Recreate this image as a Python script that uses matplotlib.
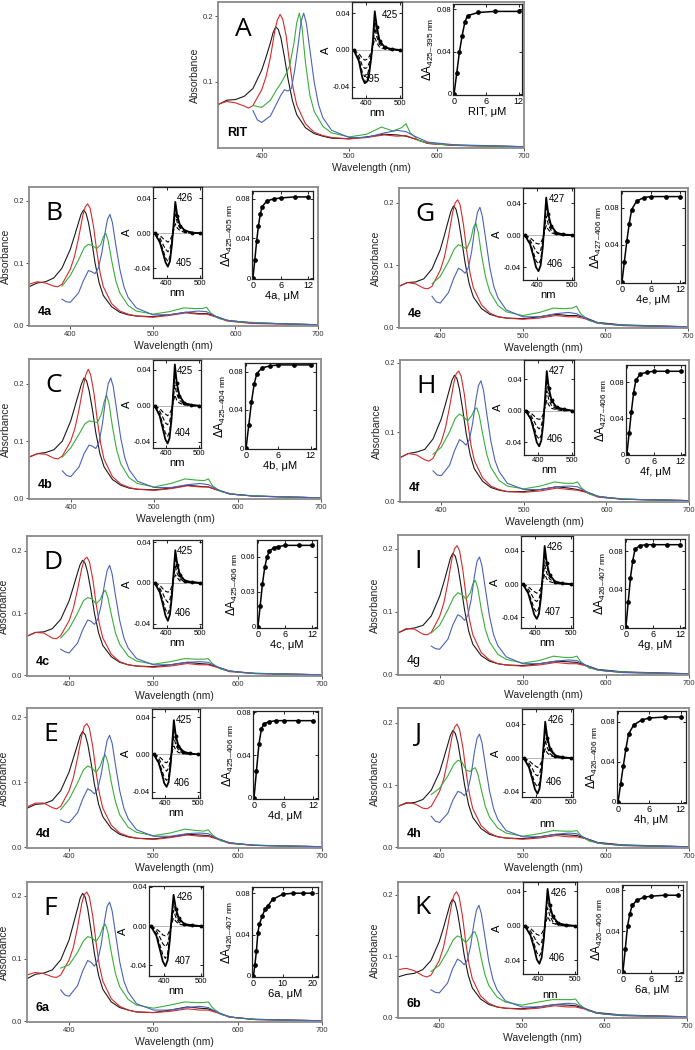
import numpy as np
import matplotlib
matplotlib.use("Agg")
import matplotlib.pyplot as plt

plt.rcParams['font.family'] = ['Liberation Sans', 'DejaVu Sans']
plt.rcParams['mathtext.fontset'] = 'custom'
plt.rcParams['mathtext.rm'] = 'Liberation Sans'
plt.rcParams['mathtext.it'] = 'Liberation Sans:italic'

# ---------------- wavelength grids (nm) ----------------
W_BLACK = [350, 360, 370, 380, 390, 400, 405, 410, 413, 416, 419, 422, 426, 430, 435, 440, 450, 460, 470, 480, 500, 520, 540, 555, 565, 575, 590, 620, 700]
W_RED = [350, 360, 370, 380, 385, 390, 400, 405, 410, 415, 418, 421, 424, 428, 432, 436, 440, 450, 460, 470, 480, 500, 520, 540, 555, 565, 575, 590, 620, 700]
W_GREEN = [390, 400, 410, 417, 422, 427, 432, 437, 440, 443, 446, 450, 455, 460, 470, 480, 500, 520, 537, 550, 560, 565, 570, 580, 600, 650, 700]
W_BLUE = [390, 395, 400, 410, 416, 422, 426, 430, 434, 438, 442, 445, 448, 451, 455, 460, 465, 470, 480, 500, 520, 540, 555, 565, 575, 590, 620, 700]
W_DIFF = [365, 380, 390, 397, 404, 410, 416, 421, 426, 432, 440, 455, 475, 500]

# ---------------- Panel A (RIT) ----------------
A_black = [.065, .072, .073, .078, .090, .118, .138, .160, .175, .184, .180, .167, .138, .105, .072, .050, .030, .021, .017, .014, .013, .016, .020, .019, .017, .013, .006, .003, .001]
A_red = [.066, .070, .068, .063, .060, .064, .088, .108, .138, .178, .195, .203, .196, .170, .128, .090, .065, .036, .023, .018, .015, .013, .015, .019, .017, .018, .013, .006, .003, .001]
A_green = [.064, .061, .072, .088, .098, .110, .125, .160, .190, .205, .185, .130, .080, .055, .032, .022, .016, .020, .031, .025, .030, .036, .022, .010, .005, .002, .001]
A_blue = [.056, .042, .038, .048, .064, .080, .088, .086, .090, .120, .160, .192, .205, .190, .150, .100, .065, .045, .026, .015, .015, .022, .026, .024, .017, .008, .004, .001]
A_diff = [[0, -.004, -.009, -.011, -.010, -.007, -.002, .004, .013, .008, .003, .001, 0, 0],
          [0, -.007, -.017, -.020, -.019, -.014, -.004, .007, .024, .014, .006, .002, 0, 0],
          [0, -.010, -.024, -.029, -.027, -.020, -.006, .010, .034, .020, .008, .002, .001, 0],
          [0, -.012, -.030, -.036, -.034, -.025, -.008, .012, .042, .025, .010, .003, .001, 0]]
A_tx = [0, 0.5, 1, 1.5, 2, 2.5, 4.5, 7.5, 12]
A_ty = [0, .020, .040, .055, .068, .074, .077, .078, .078]

# ---------------- Panel B (4a) ----------------
B_black = [.062, .068, .070, .076, .092, .122, .143, .165, .178, .185, .180, .165, .135, .100, .068, .048, .030, .021, .017, .015, .014, .017, .021, .019, .019, .015, .008, .004, .001]
B_red = [.066, .070, .068, .063, .062, .066, .090, .110, .140, .175, .190, .195, .188, .160, .120, .085, .062, .035, .023, .018, .015, .013, .016, .020, .018, .018, .014, .007, .003, .001]
B_green = [.063, .080, .105, .125, .130, .128, .123, .130, .142, .148, .135, .105, .072, .052, .032, .023, .018, .022, .028, .027, .027, .029, .020, .011, .006, .003, .001]
B_blue = [.042, .038, .037, .052, .072, .088, .086, .083, .092, .115, .148, .170, .178, .165, .130, .090, .062, .045, .028, .017, .017, .021, .023, .022, .015, .008, .004, .001]
B_diff = [[0, -.002, -.006, -.008, -.010, -.008, -.003, .003, .011, .006, .003, .001, 0, 0],
          [0, -.005, -.013, -.018, -.021, -.018, -.008, .006, .022, .012, .006, .002, .001, 0],
          [0, -.008, -.019, -.028, -.032, -.027, -.011, .009, .031, .017, .008, .003, .001, 0],
          [0, -.010, -.023, -.033, -.038, -.032, -.013, .011, .036, .020, .009, .003, .001, 0]]
B_tx = [0, 0.4, 0.8, 1.2, 1.6, 2, 3, 4.5, 6, 9, 12]
B_ty = [0, .018, .037, .053, .065, .072, .078, .080, .081, .082, .082]

# ---------------- Panel C (4b) ----------------
C_black = [.072, .078, .080, .085, .100, .135, .160, .185, .200, .210, .205, .188, .155, .115, .078, .055, .033, .023, .018, .016, .015, .018, .023, .021, .020, .015, .008, .004, .001]
C_red = [.072, .078, .077, .070, .069, .074, .100, .122, .155, .195, .215, .225, .215, .182, .135, .095, .068, .038, .025, .019, .016, .014, .017, .022, .020, .020, .015, .008, .004, .001]
C_green = [.072, .088, .112, .130, .135, .134, .132, .148, .168, .180, .165, .125, .085, .060, .036, .026, .020, .026, .034, .032, .031, .034, .022, .012, .006, .003, .001]
C_blue = [.048, .040, .038, .055, .078, .093, .091, .087, .098, .130, .175, .200, .210, .195, .155, .105, .070, .050, .030, .019, .019, .024, .026, .024, .016, .008, .004, .001]
C_diff = [[0, -.003, -.007, -.009, -.011, -.009, -.004, .003, .012, .006, .003, .001, 0, 0],
          [0, -.006, -.013, -.019, -.021, -.018, -.008, .007, .023, .013, .006, .002, 0, 0],
          [0, -.009, -.021, -.030, -.034, -.029, -.012, .011, .037, .020, .009, .003, .001, 0],
          [0, -.011, -.026, -.037, -.042, -.036, -.015, .014, .046, .025, .011, .003, .001, 0]]
C_tx = [0, 0.5, 1, 1.5, 2, 3, 4.5, 6, 9, 12]
C_ty = [0, .024, .048, .067, .078, .084, .086, .087, .087, .087]

# ---------------- Panel D (4c) ----------------
D_black = [.063, .069, .070, .075, .090, .120, .142, .165, .178, .185, .180, .165, .135, .100, .068, .048, .030, .021, .017, .015, .014, .017, .021, .019, .018, .014, .007, .003, .001]
D_red = [.063, .069, .068, .060, .059, .064, .088, .108, .138, .172, .186, .190, .183, .155, .115, .082, .060, .034, .022, .017, .015, .013, .015, .019, .017, .017, .013, .006, .003, .001]
D_green = [.060, .075, .100, .120, .125, .123, .115, .122, .132, .137, .125, .098, .068, .050, .031, .023, .018, .022, .027, .026, .026, .027, .019, .010, .005, .002, .001]
D_blue = [.042, .038, .036, .052, .073, .089, .087, .082, .090, .113, .147, .168, .177, .163, .128, .088, .060, .044, .027, .017, .017, .021, .022, .021, .014, .007, .003, .001]
D_diff = [[0, -.002, -.006, -.008, -.009, -.008, -.003, .003, .008, .005, .002, .001, 0, 0],
          [0, -.005, -.011, -.016, -.019, -.016, -.007, .005, .016, .009, .004, .001, 0, 0],
          [0, -.007, -.018, -.026, -.030, -.025, -.010, .008, .026, .014, .006, .002, .001, 0],
          [0, -.009, -.022, -.032, -.037, -.031, -.013, .010, .032, .018, .008, .002, .001, 0]]
D_tx = [0, 0.5, 1, 1.5, 2, 2.5, 3.5, 4.5, 6, 9, 12]
D_ty = [0, .018, .037, .051, .060, .065, .068, .069, .070, .070, .070]

# ---------------- Panel E (4d) ----------------
E_black = [.060, .066, .067, .072, .087, .116, .137, .158, .171, .178, .173, .159, .130, .097, .066, .047, .029, .020, .016, .014, .013, .016, .020, .019, .018, .014, .007, .003, .001]
E_red = [.062, .068, .068, .061, .059, .063, .087, .107, .137, .172, .186, .190, .183, .155, .115, .082, .060, .034, .022, .017, .014, .012, .015, .019, .017, .017, .013, .006, .003, .001]
E_green = [.058, .074, .099, .119, .125, .122, .115, .125, .137, .142, .130, .100, .070, .050, .031, .023, .018, .022, .028, .026, .025, .027, .019, .010, .005, .002, .001]
E_blue = [.042, .039, .038, .053, .074, .090, .087, .082, .090, .112, .143, .164, .172, .160, .126, .087, .060, .044, .027, .017, .017, .021, .022, .021, .014, .007, .003, .001]
E_diff = [[0, -.002, -.005, -.008, -.009, -.007, -.003, .003, .009, .005, .002, .001, 0, 0],
          [0, -.004, -.011, -.015, -.018, -.015, -.006, .006, .019, .010, .005, .001, 0, 0],
          [0, -.007, -.017, -.025, -.028, -.024, -.010, .009, .030, .016, .007, .002, .001, 0],
          [0, -.009, -.021, -.031, -.035, -.030, -.012, .011, .037, .020, .009, .003, .001, 0]]
E_tx = [0, 0.5, 1, 1.5, 2, 3, 4.5, 6, 9, 12]
E_ty = [0, .025, .050, .064, .069, .071, .072, .072, .072, .072]

# ---------------- Panel F (6a) ----------------
F_black = [.068, .075, .077, .082, .098, .130, .155, .180, .196, .204, .198, .180, .145, .108, .073, .051, .031, .022, .018, .015, .014, .018, .023, .021, .020, .015, .007, .003, .001]
F_red = [.074, .078, .076, .071, .070, .074, .098, .118, .150, .188, .202, .206, .198, .168, .125, .088, .064, .036, .024, .018, .015, .014, .016, .020, .018, .018, .014, .007, .003, .001]
F_green = [.085, .090, .110, .128, .135, .133, .127, .138, .150, .155, .142, .110, .076, .055, .035, .026, .021, .026, .031, .030, .030, .031, .022, .011, .005, .002, .001]
F_blue = [.050, .042, .040, .057, .080, .097, .094, .088, .097, .122, .160, .183, .190, .176, .140, .095, .064, .047, .028, .018, .018, .022, .024, .022, .015, .007, .003, .001]
F_diff = [[0, -.003, -.006, -.009, -.010, -.009, -.004, .003, .008, .005, .002, .001, 0, 0],
          [0, -.005, -.012, -.018, -.021, -.018, -.007, .005, .016, .009, .004, .001, 0, 0],
          [0, -.008, -.020, -.029, -.033, -.028, -.011, .008, .026, .014, .006, .002, .001, 0],
          [0, -.010, -.025, -.036, -.041, -.035, -.014, .010, .032, .018, .008, .002, .001, 0]]
F_tx = [0, 0.5, 1, 1.5, 2, 3, 4, 5, 6.5, 10, 13.5, 17, 20]
F_ty = [0, .011, .024, .042, .050, .058, .065, .068, .074, .079, .080, .080, .080]

# ---------------- Panel G (4e) ----------------
G_black = [.066, .072, .073, .078, .094, .125, .148, .173, .187, .195, .190, .173, .140, .104, .070, .049, .030, .021, .017, .015, .014, .017, .021, .019, .019, .016, .008, .004, .001]
G_red = [.066, .072, .070, .063, .062, .066, .092, .113, .146, .185, .200, .205, .197, .166, .123, .087, .064, .036, .023, .017, .015, .013, .015, .019, .017, .017, .014, .007, .003, .001]
G_green = [.070, .082, .106, .126, .133, .130, .126, .142, .160, .168, .152, .116, .080, .057, .035, .025, .019, .024, .031, .030, .031, .034, .022, .011, .005, .002, .001]
G_blue = [.050, .041, .039, .056, .078, .095, .092, .087, .096, .122, .162, .185, .193, .178, .142, .096, .065, .047, .028, .017, .017, .022, .024, .022, .015, .007, .003, .001]
G_diff = [[0, -.003, -.007, -.010, -.011, -.010, -.004, .004, .012, .007, .003, .001, 0, 0],
          [0, -.006, -.014, -.020, -.023, -.019, -.008, .007, .024, .013, .006, .002, 0, 0],
          [0, -.009, -.022, -.032, -.036, -.031, -.013, .011, .038, .021, .009, .003, .001, 0],
          [0, -.011, -.027, -.040, -.045, -.038, -.016, .014, .047, .026, .012, .003, .001, 0]]
G_tx = [0, 0.5, 1, 1.5, 2, 3, 4.5, 6, 9, 12]
G_ty = [0, .022, .044, .063, .078, .087, .091, .092, .092, .092]

# ---------------- Panel H (4f) ----------------
H_black = [.063, .069, .071, .075, .090, .119, .140, .162, .175, .182, .177, .162, .132, .099, .067, .047, .029, .020, .016, .014, .014, .017, .021, .019, .017, .014, .007, .003, .001]
H_red = [.063, .069, .067, .060, .058, .062, .086, .106, .136, .170, .184, .188, .181, .154, .114, .081, .059, .034, .022, .017, .014, .013, .015, .019, .017, .016, .013, .006, .003, .001]
H_green = [.068, .078, .100, .120, .126, .122, .116, .124, .132, .135, .124, .098, .068, .049, .030, .022, .018, .022, .028, .026, .026, .028, .019, .010, .005, .002, .001]
H_blue = [.044, .038, .037, .052, .073, .089, .086, .081, .089, .113, .147, .167, .174, .161, .127, .087, .059, .043, .026, .017, .017, .021, .022, .021, .014, .007, .003, .001]
H_diff = [[0, -.003, -.007, -.010, -.011, -.010, -.004, .004, .013, .007, .003, .001, 0, 0],
          [0, -.006, -.014, -.020, -.023, -.019, -.008, .008, .025, .014, .006, .002, .001, 0],
          [0, -.009, -.022, -.032, -.036, -.031, -.013, .012, .040, .022, .010, .003, .001, 0],
          [0, -.011, -.027, -.040, -.045, -.038, -.016, .015, .050, .028, .013, .004, .002, 0]]
H_tx = [0, 0.5, 1, 1.5, 2, 3, 4.5, 6, 9, 12]
H_ty = [0, .023, .047, .068, .082, .089, .091, .092, .092, .092]

# ---------------- Panel I (4g) ----------------
I_black = [.066, .072, .074, .078, .093, .124, .146, .170, .185, .193, .188, .172, .139, .103, .069, .048, .030, .021, .017, .015, .014, .017, .021, .020, .019, .015, .008, .004, .001]
I_red = [.066, .073, .072, .064, .063, .067, .092, .113, .146, .185, .200, .205, .197, .166, .123, .087, .063, .035, .023, .017, .015, .013, .015, .019, .017, .017, .014, .007, .003, .001]
I_green = [.066, .078, .103, .123, .130, .127, .120, .130, .144, .150, .137, .105, .072, .052, .032, .024, .018, .022, .029, .027, .027, .029, .020, .010, .005, .002, .001]
I_blue = [.045, .041, .040, .056, .079, .095, .092, .086, .094, .119, .157, .180, .187, .173, .137, .093, .063, .046, .028, .017, .017, .021, .023, .022, .015, .007, .003, .001]
I_diff = [[0, -.003, -.007, -.009, -.011, -.009, -.004, .003, .012, .006, .003, .001, 0, 0],
          [0, -.006, -.013, -.019, -.021, -.018, -.008, .007, .023, .013, .006, .002, 0, 0],
          [0, -.009, -.021, -.030, -.034, -.029, -.012, .011, .037, .020, .009, .003, .001, 0],
          [0, -.011, -.026, -.037, -.042, -.036, -.015, .014, .046, .025, .011, .003, .001, 0]]
I_tx = [0, 0.5, 1, 1.5, 2, 3, 4.5, 6, 9, 12]
I_ty = [0, .026, .052, .070, .082, .086, .087, .087, .087, .087]

# ---------------- Panel J (4h) ----------------
J_black = [.066, .071, .072, .077, .092, .121, .143, .166, .180, .188, .183, .168, .136, .101, .068, .048, .030, .021, .017, .015, .014, .017, .021, .020, .019, .015, .008, .004, .001]
J_red = [.066, .072, .070, .063, .062, .066, .090, .110, .141, .178, .193, .198, .190, .161, .120, .085, .062, .035, .023, .017, .015, .013, .015, .019, .017, .017, .014, .007, .003, .001]
J_green = [.085, .095, .115, .133, .140, .137, .124, .122, .126, .128, .118, .094, .066, .049, .031, .023, .018, .022, .027, .026, .026, .027, .019, .010, .005, .002, .001]
J_blue = [.050, .042, .040, .055, .076, .090, .088, .083, .092, .117, .154, .175, .182, .168, .133, .091, .062, .045, .027, .017, .017, .021, .023, .022, .015, .007, .003, .001]
J_diff = [[0, -.003, -.007, -.009, -.011, -.009, -.004, .003, .011, .006, .003, .001, 0, 0],
          [0, -.006, -.013, -.019, -.021, -.018, -.008, .006, .021, .012, .005, .001, 0, 0],
          [0, -.009, -.021, -.030, -.034, -.029, -.012, .010, .034, .019, .009, .002, .001, 0],
          [0, -.011, -.026, -.037, -.042, -.036, -.015, .013, .043, .024, .011, .003, .001, 0]]
J_tx = [0, 0.5, 1, 1.5, 2, 3, 4.5, 6, 9, 12]
J_ty = [0, .018, .036, .053, .068, .077, .082, .084, .085, .085]

# ---------------- Panel K (6b) ----------------
K_black = [.066, .070, .072, .078, .093, .124, .146, .170, .185, .193, .188, .172, .139, .103, .069, .048, .030, .021, .017, .015, .014, .017, .021, .020, .019, .015, .008, .004, .001]
K_red = [.078, .080, .076, .068, .066, .069, .093, .114, .147, .185, .200, .205, .197, .166, .123, .087, .063, .035, .023, .017, .015, .013, .015, .019, .017, .017, .014, .007, .003, .001]
K_green = [.075, .085, .108, .127, .133, .130, .122, .130, .137, .140, .130, .102, .071, .052, .033, .025, .020, .025, .029, .029, .029, .030, .021, .011, .005, .002, .001]
K_blue = [.045, .041, .040, .056, .079, .095, .092, .086, .093, .117, .154, .175, .183, .169, .134, .091, .062, .045, .027, .017, .017, .021, .023, .022, .015, .007, .003, .001]
K_diff = [[0, -.003, -.007, -.010, -.011, -.009, -.004, .003, .011, .006, .003, .001, 0, 0],
          [0, -.006, -.013, -.019, -.022, -.019, -.008, .006, .021, .012, .005, .001, 0, 0],
          [0, -.009, -.021, -.031, -.035, -.030, -.012, .010, .034, .019, .009, .002, .001, 0],
          [0, -.011, -.026, -.039, -.044, -.037, -.015, .013, .043, .024, .011, .003, .001, 0]]
K_tx = [0, 0.5, 1, 1.5, 2, 3, 4.5, 6, 9, 12]
K_ty = [0, .022, .045, .057, .065, .070, .073, .074, .075, .075]

# ---------------- text ----------------
PANELS = ['A', 'B', 'C', 'D', 'E', 'F', 'G', 'H', 'I', 'J', 'K']
COMPOUNDS = ['RIT', '4a', '4b', '4c', '4d', '6a', '4e', '4f', '4g', '4h', '6b']
TITR_XNAMES = ['RIT', '4a', '4b', '4c', '4d', '6a', '4e', '4f', '4g', '4h', '6a']
PEAK_LABELS = ['425', '426', '425', '425', '425', '426', '427', '427', '426', '426', '426']
TROUGH_LABELS = ['395', '405', '404', '406', '406', '407', '406', '406', '407', '406', '406']
DELTA_SUB = ['425-395', '425-405', '425-404', '425-406', '425-406', '426-407',
             '427-406', '427-406', '426-407', '426-406', '426-406']

# ---------------- layout (pixel boxes: left, top, right, bottom) ----------------
FIG_W, FIG_H = 695, 1050
MAIN_BOX = {'A': (218, 2, 524, 148), 'B': (29, 187, 318, 326), 'C': (29, 359, 321, 499),
            'D': (27, 536, 322, 676), 'E': (27, 708, 322, 848), 'F': (27, 882, 322, 1022),
            'G': (399, 188, 688, 328), 'H': (400, 360, 689, 502), 'I': (398, 535, 689, 675),
            'J': (398, 708, 689, 848), 'K': (398, 882, 687, 1018)}
DIFF_BOX = {'A': (352, 2, 402, 98), 'B': (153, 187, 202, 278), 'C': (153, 360, 201, 448),
            'D': (153, 540, 202, 628), 'E': (152, 709, 200, 798), 'F': (149, 886, 203, 976),
            'G': (523, 188, 574, 280), 'H': (524, 360, 574, 455), 'I': (521, 536, 573, 628),
            'J': (522, 709, 573, 797), 'K': (523, 882, 577, 974)}
TITR_BOX = {'A': (453, 4, 522, 95), 'B': (252, 191, 313, 279), 'C': (245, 363, 316, 449),
            'D': (257, 540, 317, 628), 'E': (253, 711, 318, 799), 'F': (252, 887, 318, 977),
            'G': (621, 191, 685, 283), 'H': (626, 365, 685, 455), 'I': (625, 539, 685, 628),
            'J': (617, 711, 686, 803), 'K': (622, 885, 683, 973)}
MAIN_YTOP = {'A': .222, 'B': .222, 'C': .243, 'D': .224, 'E': .214, 'F': .222,
             'G': .224, 'H': .204, 'I': .222, 'J': .224, 'K': .221}
DIFF_YLIM = {'A': (-.052, .052), 'B': (-.051, .053), 'C': (-.047, .051), 'D': (-.044, .042),
             'E': (-.047, .049), 'F': (-.051, .041), 'G': (-.056, .059), 'H': (-.056, .064),
             'I': (-.053, .058), 'J': (-.046, .058), 'K': (-.056, .051)}
TITR_YTOP = {'A': .085, 'B': .088, 'C': .089, 'D': .0746, 'E': .081, 'F': .086,
             'G': .098, 'H': .099, 'I': .093, 'J': .091, 'K': .085}

COLORS = {'black': '#1a1a1a', 'red': '#d42a2a', 'green': '#3aae3a', 'blue': '#4b63b8'}


def add_axes_px(fig, box):
    l, t, r, b = box
    return fig.add_axes([l / FIG_W, 1 - b / FIG_H, (r - l) / FIG_W, (b - t) / FIG_H])


fig = plt.figure(figsize=(6.95, 10.5), dpi=100)

for idx, p in enumerate(PANELS):
    g = globals()
    # ---------- main spectra ----------
    ax = add_axes_px(fig, MAIN_BOX[p])
    ax.plot(W_BLACK, g[p + '_black'], color=COLORS['black'], lw=0.8)
    ax.plot(W_RED, g[p + '_red'], color=COLORS['red'], lw=0.8)
    ax.plot(W_GREEN, g[p + '_green'], color=COLORS['green'], lw=0.8)
    ax.plot(W_BLUE, g[p + '_blue'], color=COLORS['blue'], lw=0.8)
    ax.set_xlim(350, 700)
    ax.set_ylim(-0.001, MAIN_YTOP[p])
    ax.set_xticks([400, 500, 600, 700])
    if p == 'A':
        ax.set_yticks([0.1, 0.2])
        ax.set_yticklabels(['0.1', '0.2'])
    else:
        ax.set_yticks([0.0, 0.1, 0.2])
        ax.set_yticklabels(['0.0', '0.1', '0.2'])
    ax.tick_params(labelsize=5.5, length=2, width=0.6, pad=1.5, colors='#333333')
    for s in ax.spines.values():
        s.set_color('#8a8a8a')
        s.set_linewidth(1.3)
    ax.set_xlabel('Wavelength (nm)', fontsize=7.5, labelpad=2, color='#222222')
    ax.set_ylabel('Absorbance', fontsize=7.5, labelpad=2, color='#222222')
    ax.text(0.055, 0.81, p, transform=ax.transAxes, fontsize=19, ha='left', va='center',
            family=['Open Sans', 'DejaVu Sans'])
    ax.text(0.03, 0.10, COMPOUNDS[idx], transform=ax.transAxes, fontsize=9,
            fontweight='normal' if p == 'I' else 'bold', ha='left', va='center')

    # ---------- difference spectra inset ----------
    ai = add_axes_px(fig, DIFF_BOX[p])
    ai.axhline(0, color='#9a9a9a', lw=0.5)
    curves = g[p + '_diff']
    for c in curves[:-1]:
        ai.plot(W_DIFF, c, color='k', lw=0.8, ls=(0, (4, 2)))
    ai.plot(W_DIFF, curves[-1], color='k', lw=1.3, marker='o', ms=1.8,
            markevery=[0, 9, 10, 11, 12, 13])
    ai.set_xlim(360, 505)
    ai.set_ylim(*DIFF_YLIM[p])
    ai.set_xticks([400, 500])
    ai.set_yticks([-0.04, 0.0, 0.04])
    ai.set_yticklabels(['-0.04', '0.00', '0.04'])
    ai.tick_params(labelsize=5.5, length=2, width=0.6, pad=1.5, direction='in',
                   right=True, top=True)
    for s in ai.spines.values():
        s.set_color('#222222')
        s.set_linewidth(0.9)
    ai.set_ylabel('A', fontsize=8, labelpad=1)
    nm_pad = {'J': 9, 'K': 5}.get(p, 1)
    ai.set_xlabel('nm', fontsize=8, labelpad=nm_pad)
    if p == 'A':
        ai.text(0.76, 0.86, PEAK_LABELS[idx], transform=ai.transAxes, fontsize=7, ha='center', va='center')
        ai.text(0.40, 0.20, TROUGH_LABELS[idx], transform=ai.transAxes, fontsize=7, ha='center', va='center')
    else:
        ai.text(0.66, 0.88, PEAK_LABELS[idx], transform=ai.transAxes, fontsize=7, ha='center', va='center')
        ai.text(0.62, 0.17, TROUGH_LABELS[idx], transform=ai.transAxes, fontsize=7, ha='center', va='center')

    # ---------- titration inset ----------
    at = add_axes_px(fig, TITR_BOX[p])
    at.plot(g[p + '_tx'], g[p + '_ty'], color='k', lw=1.1, marker='o', ms=2.4)
    at.set_ylim(-0.001, TITR_YTOP[p])
    if p == 'F':
        at.set_xlim(-0.5, 22)
        at.set_xticks([0, 10, 20])
    elif p == 'A':
        at.set_xlim(-0.2, 12.6)
        at.set_xticks([0, 6, 12])
    else:
        at.set_xlim(-0.2, 13)
        at.set_xticks([0, 6, 12])
    if p == 'D':
        at.set_yticks([0, 0.03, 0.06])
        at.set_yticklabels(['0', '0.03', '0.06'])
    else:
        at.set_yticks([0, 0.04, 0.08])
        at.set_yticklabels(['0', '0.04', '0.08'])
    at.tick_params(axis='y', labelsize=5.5, length=2, width=0.6, pad=1, direction='in', right=True)
    at.tick_params(axis='x', labelsize=6.5, length=2, width=0.6, pad=1.5, direction='in', top=True)
    for s in at.spines.values():
        s.set_color('#222222')
        s.set_linewidth(0.9)
    at.set_xlabel(TITR_XNAMES[idx] + ', μM', fontsize=8, labelpad=1)
    at.set_ylabel('ΔA$_{\\mathregular{' + DELTA_SUB[idx].replace('-', '\u2013') + '\\ nm}}$',
                  fontsize=8.5, labelpad=1)

fig.savefig('out.png', dpi=100)
